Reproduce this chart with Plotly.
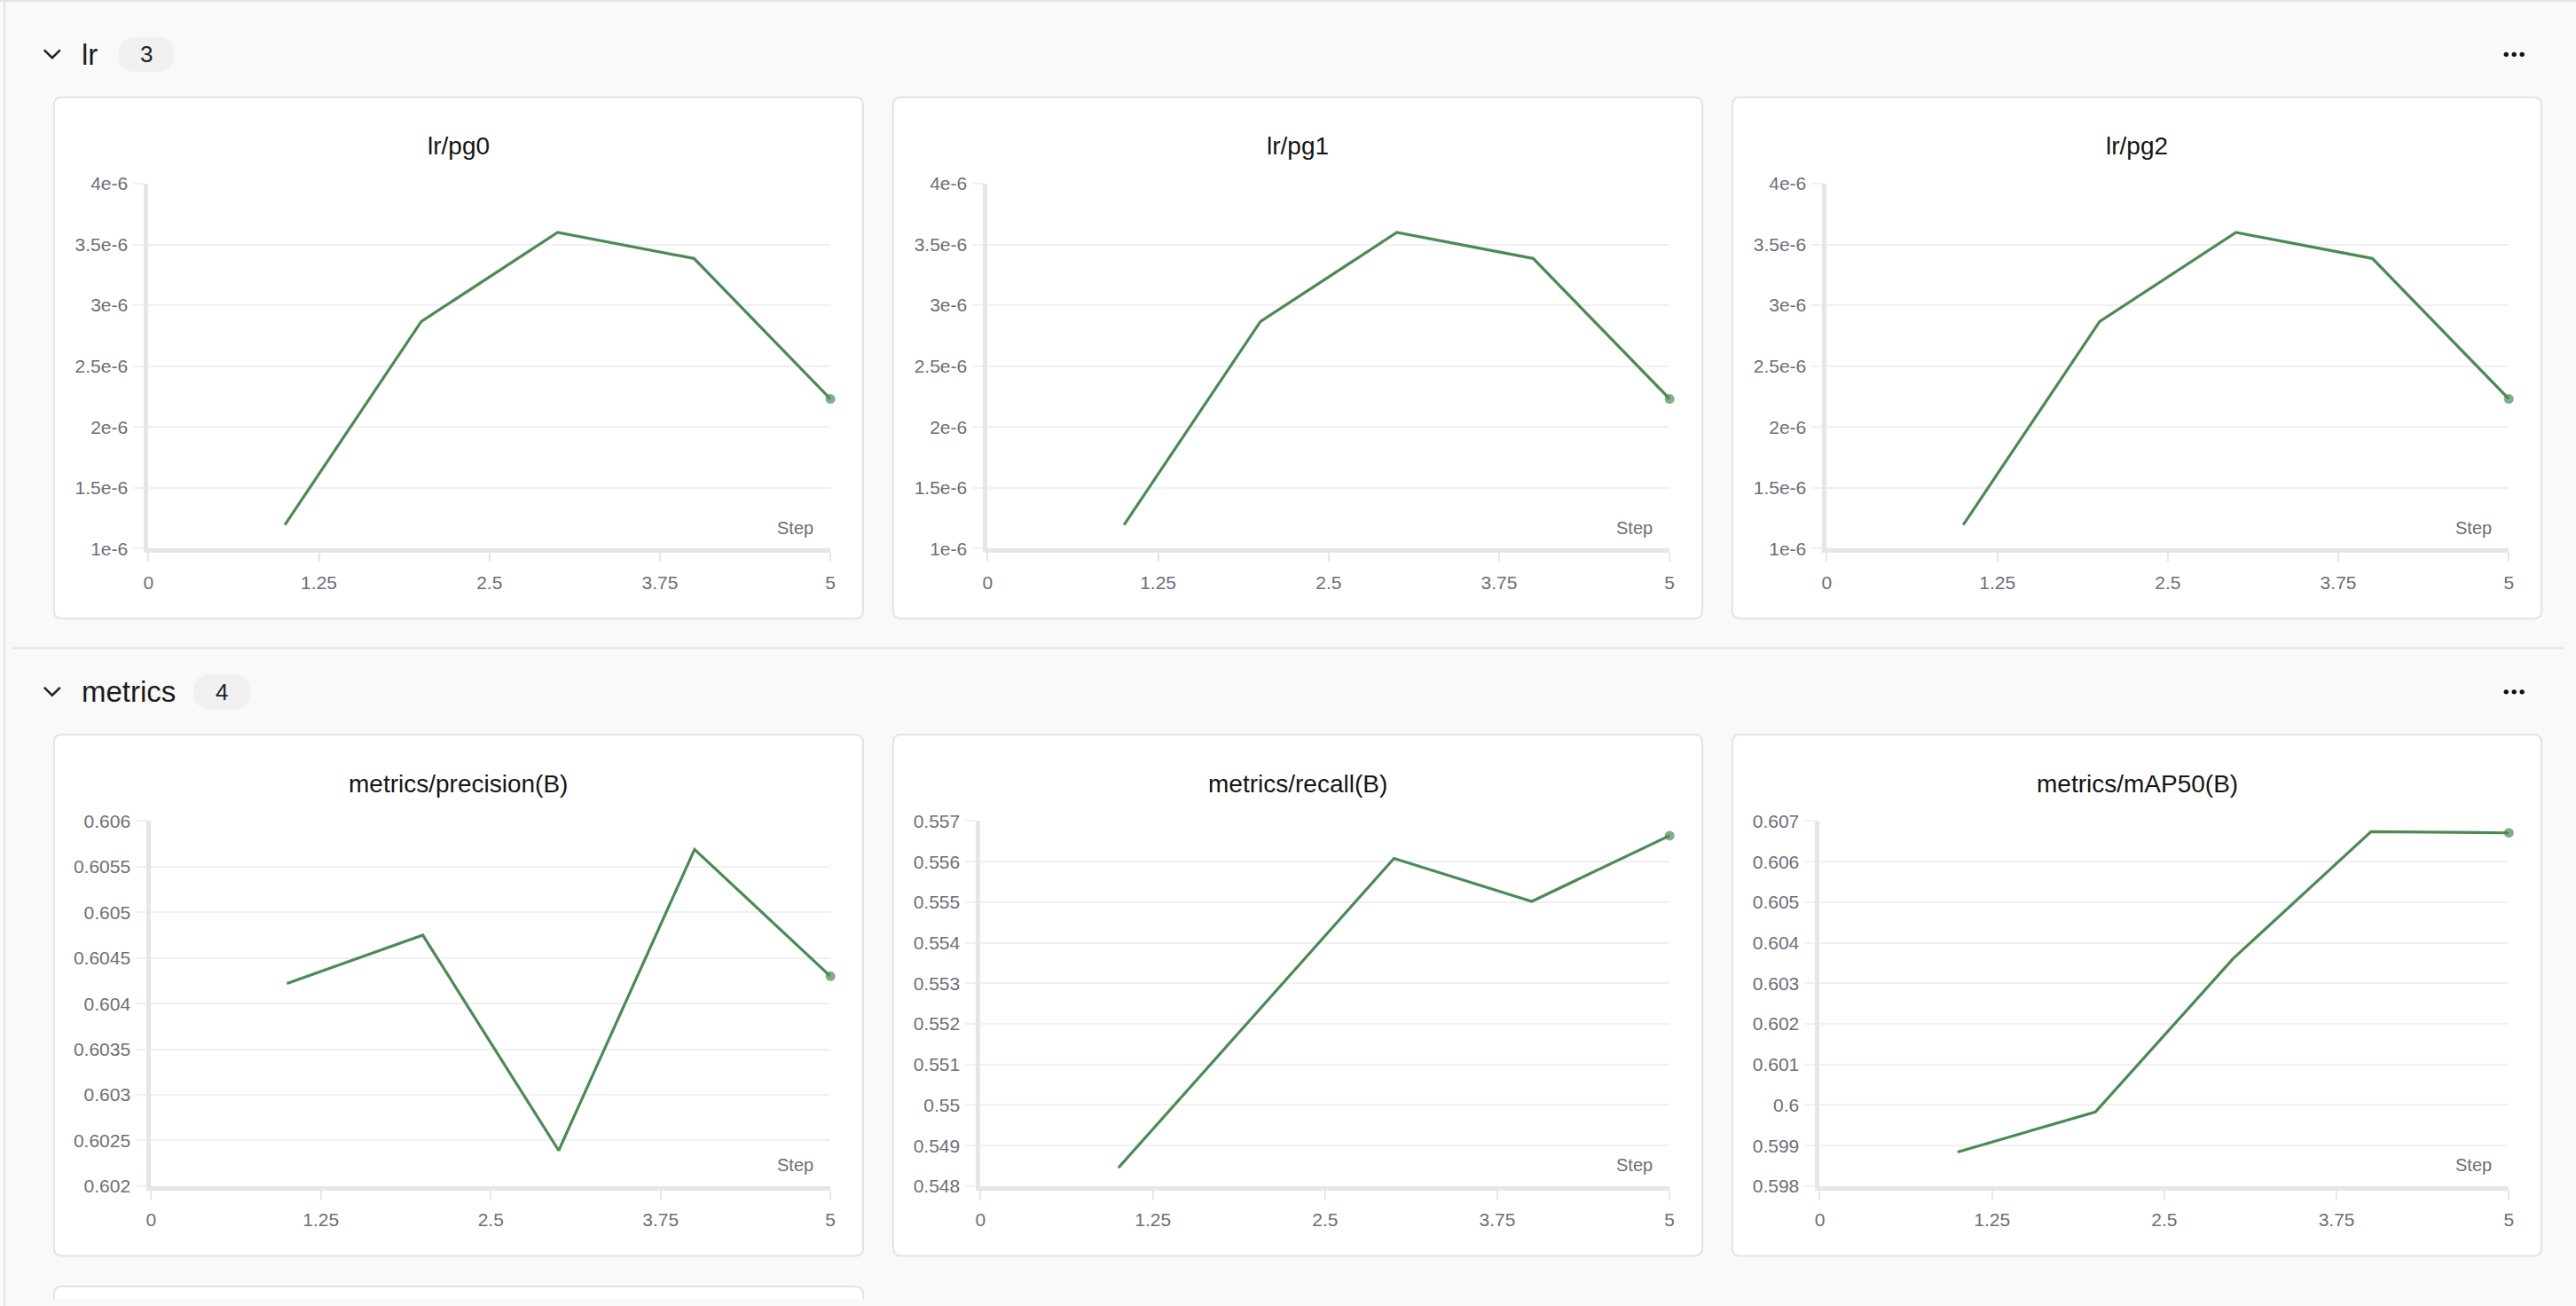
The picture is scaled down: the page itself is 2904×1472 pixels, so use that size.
import plotly.graph_objects as go

# page size and the browser's default body margin (content is laid out in page pixels)
W, H = 2904, 1472
OFF = 8
FW, FH = W - 2 * OFF, H - 2 * OFF

# ---------------- data ----------------
steps = [1, 2, 3, 4, 5]
lr_pg0 = [1.196e-6, 2.867e-6, 3.599e-6, 3.385e-6, 2.231e-6]
lr_pg1 = [1.196e-6, 2.867e-6, 3.599e-6, 3.385e-6, 2.231e-6]
lr_pg2 = [1.196e-6, 2.867e-6, 3.599e-6, 3.385e-6, 2.231e-6]
precision_b = [0.60422, 0.60475, 0.60239, 0.60569, 0.60430]
recall_b = [0.54845, 0.55227, 0.55608, 0.55502, 0.55664]
map50_b = [0.59884, 0.59983, 0.60361, 0.60674, 0.60671]

x_tickvals = [0, 1.25, 2.5, 3.75, 5]
x_ticktext = ["0", "1.25", "2.5", "3.75", "5"]

lr_tickvals = [1e-6, 1.5e-6, 2e-6, 2.5e-6, 3e-6, 3.5e-6, 4e-6]
lr_ticktext = ["1e-6", "1.5e-6", "2e-6", "2.5e-6", "3e-6", "3.5e-6", "4e-6"]
prec_tickvals = [0.602, 0.6025, 0.603, 0.6035, 0.604, 0.6045, 0.605, 0.6055, 0.606]
prec_ticktext = ["0.602", "0.6025", "0.603", "0.6035", "0.604", "0.6045", "0.605", "0.6055", "0.606"]
rec_tickvals = [0.548, 0.549, 0.550, 0.551, 0.552, 0.553, 0.554, 0.555, 0.556, 0.557]
rec_ticktext = ["0.548", "0.549", "0.55", "0.551", "0.552", "0.553", "0.554", "0.555", "0.556", "0.557"]
map_tickvals = [0.598, 0.599, 0.600, 0.601, 0.602, 0.603, 0.604, 0.605, 0.606, 0.607]
map_ticktext = ["0.598", "0.599", "0.6", "0.601", "0.602", "0.603", "0.604", "0.605", "0.606", "0.607"]

chart_titles = ["lr/pg0", "lr/pg1", "lr/pg2",
                "metrics/precision(B)", "metrics/recall(B)", "metrics/mAP50(B)"]
section_names = ["lr", "metrics"]
section_counts = ["3", "4"]

# ---------------- styling / layout ----------------
FONT = "Liberation Sans, Arial, Helvetica, sans-serif"
GREEN = "#4b8a55"
TICK_COLOR = "#6e6e78"
GRID = "#f0f0f0"
AXIS = "#e6e6e9"
CARD_BORDER = "#e3e3e3"
PAGE_BG = "#f9f9f9"

cols_left = [55, 1005, 1955]
card_w = 916
rows_top = [99, 829]
card_h = 597
plot_top_off, plot_bot_off = 99, 517
plot_right_off = card_w - 37

charts = [
    dict(y=lr_pg0, tv=lr_tickvals, tt=lr_ticktext, rng=[1e-6, 4e-6], left_off=107),
    dict(y=lr_pg1, tv=lr_tickvals, tt=lr_ticktext, rng=[1e-6, 4e-6], left_off=107),
    dict(y=lr_pg2, tv=lr_tickvals, tt=lr_ticktext, rng=[1e-6, 4e-6], left_off=107),
    dict(y=precision_b, tv=prec_tickvals, tt=prec_ticktext, rng=[0.602, 0.606], left_off=110),
    dict(y=recall_b, tv=rec_tickvals, tt=rec_ticktext, rng=[0.548, 0.557], left_off=99),
    dict(y=map50_b, tv=map_tickvals, tt=map_ticktext, rng=[0.598, 0.607], left_off=99),
]


def X(p):
    return (p - OFF) / FW


def Y(p):
    return 1 - (p - OFF) / FH


def rrect(x0, y0, x1, y1, r):
    return (f"M {X(x0 + r)},{Y(y0)} L {X(x1 - r)},{Y(y0)} "
            f"Q {X(x1)},{Y(y0)} {X(x1)},{Y(y0 + r)} L {X(x1)},{Y(y1 - r)} "
            f"Q {X(x1)},{Y(y1)} {X(x1 - r)},{Y(y1)} L {X(x0 + r)},{Y(y1)} "
            f"Q {X(x0)},{Y(y1)} {X(x0)},{Y(y1 - r)} L {X(x0)},{Y(y0 + r)} "
            f"Q {X(x0)},{Y(y0)} {X(x0 + r)},{Y(y0)} Z")


fig = go.Figure()
shapes = []
annotations = []

# section divider
shapes.append(dict(type="line", xref="paper", yref="paper", x0=0, x1=1, y0=Y(730), y1=Y(730),
                   line=dict(color="#e4e4e4", width=2), layer="below"))

# section headers
header_y = [50, 780]
badge_x = [(128, 191), (213, 277)]
for si, name in enumerate(section_names):
    hy = header_y[si]
    shapes.append(dict(type="path", xref="paper", yref="paper",
                       path=f"M {X(44)},{Y(hy - 5)} L {X(53)},{Y(hy + 4)} L {X(62)},{Y(hy - 5)}",
                       line=dict(color="#222222", width=2.6), layer="below"))
    annotations.append(dict(xref="paper", yref="paper", x=X(84), y=Y(hy), text=name,
                            showarrow=False, xanchor="left", yanchor="middle",
                            font=dict(family=FONT, size=33, color="#1c1c1c")))
    bx0, bx1 = badge_x[si]
    shapes.append(dict(type="path", xref="paper", yref="paper",
                       path=rrect(bx0, hy - 20, bx1, hy + 20, 20),
                       fillcolor="#f0f0f0", line=dict(width=0), layer="below"))
    annotations.append(dict(xref="paper", yref="paper", x=X((bx0 + bx1) / 2), y=Y(hy),
                            text=section_counts[si], showarrow=False,
                            xanchor="center", yanchor="middle",
                            font=dict(family=FONT, size=26, color="#222222")))
    for dx in (2831, 2840, 2849):
        shapes.append(dict(type="circle", xref="paper", yref="paper",
                           x0=X(dx - 2.7), x1=X(dx + 2.7), y0=Y(hy - 2.7), y1=Y(hy + 2.7),
                           fillcolor="#111111", line=dict(width=0), layer="below"))

# cards
for r, top in enumerate(rows_top):
    for c, left in enumerate(cols_left):
        shapes.append(dict(type="path", xref="paper", yref="paper",
                           path=rrect(left, top, left + card_w, top + card_h, 9),
                           fillcolor="#ffffff", line=dict(color=CARD_BORDER, width=2),
                           layer="below"))
shapes.append(dict(type="path", xref="paper", yref="paper",
                   path=rrect(55, 1461, 55 + card_w, 1461 + card_h, 9),
                   fillcolor="#ffffff", line=dict(color=CARD_BORDER, width=2), layer="below"))

layout_axes = {}
for i, ch in enumerate(charts):
    r, c = divmod(i, 3)
    left = cols_left[c]
    top = rows_top[r]
    px0 = left + ch["left_off"]
    px1 = left + plot_right_off
    py0 = top + plot_top_off
    py1 = top + plot_bot_off
    n = i + 1
    xa = "x" if n == 1 else f"x{n}"
    ya = "y" if n == 1 else f"y{n}"
    sizes = [0] * (len(steps) - 1) + [11]
    fig.add_trace(go.Scatter(x=steps, y=ch["y"], mode="lines+markers", xaxis=xa, yaxis=ya,
                             line=dict(color=GREEN, width=3.2),
                             marker=dict(color=GREEN, size=sizes, line=dict(width=0)),
                             cliponaxis=False, showlegend=False, hoverinfo="skip"))
    layout_axes[f"xaxis{'' if n == 1 else n}"] = dict(
        domain=[X(px0), X(px1)], range=[0, 5], anchor=ya, fixedrange=True,
        tickmode="array", tickvals=x_tickvals, ticktext=x_ticktext,
        showgrid=False, zeroline=False, showline=True, linecolor=AXIS, linewidth=5,
        ticks="outside", ticklen=10, tickwidth=2, tickcolor="#e6e6e6",
        ticklabelstandoff=5,
        tickfont=dict(family=FONT, size=21, color=TICK_COLOR),
    )
    layout_axes[f"yaxis{'' if n == 1 else n}"] = dict(
        domain=[Y(py1), Y(py0)], range=ch["rng"], anchor=xa, fixedrange=True,
        tickmode="array", tickvals=ch["tv"], ticktext=ch["tt"],
        showgrid=True, gridcolor=GRID, gridwidth=2, zeroline=False,
        showline=True, linecolor=AXIS, linewidth=5,
        ticks="outside", ticklen=12, tickwidth=2, tickcolor=GRID,
        ticklabelstandoff=2,
        tickfont=dict(family=FONT, size=21, color=TICK_COLOR),
    )
    annotations.append(dict(xref="paper", yref="paper", x=X(left + card_w / 2), y=Y(top + 56),
                            text=chart_titles[i], showarrow=False,
                            xanchor="center", yanchor="middle",
                            font=dict(family=FONT, size=28, color="#151515")))
    annotations.append(dict(xref="paper", yref="paper", x=X(left + card_w - 54), y=Y(py1 - 24),
                            text="Step", showarrow=False, xanchor="right", yanchor="middle",
                            font=dict(family=FONT, size=20, color=TICK_COLOR)))

fig.update_layout(
    width=FW, height=FH, autosize=False,
    margin=dict(l=0, r=0, t=0, b=0, pad=0),
    paper_bgcolor=PAGE_BG, plot_bgcolor="rgba(0,0,0,0)",
    shapes=shapes, annotations=annotations, showlegend=False,
    font=dict(family=FONT),
    **layout_axes,
)

# page background (the body margin around the figure) with the thin frame lines
page_css = (
    "try{var h=document.documentElement;"
    "h.style.background='linear-gradient(#e4e4e4,#e4e4e4) 0 0/100% 2px no-repeat,"
    "linear-gradient(#e4e4e4,#e4e4e4) 4px 0/2px 100% no-repeat," + PAGE_BG + "';"
    "document.body.style.background='transparent';}catch(e){}"
)
fig.write_html("out.html", config={"displayModeBar": False, "staticPlot": True},
               post_script=page_css)
